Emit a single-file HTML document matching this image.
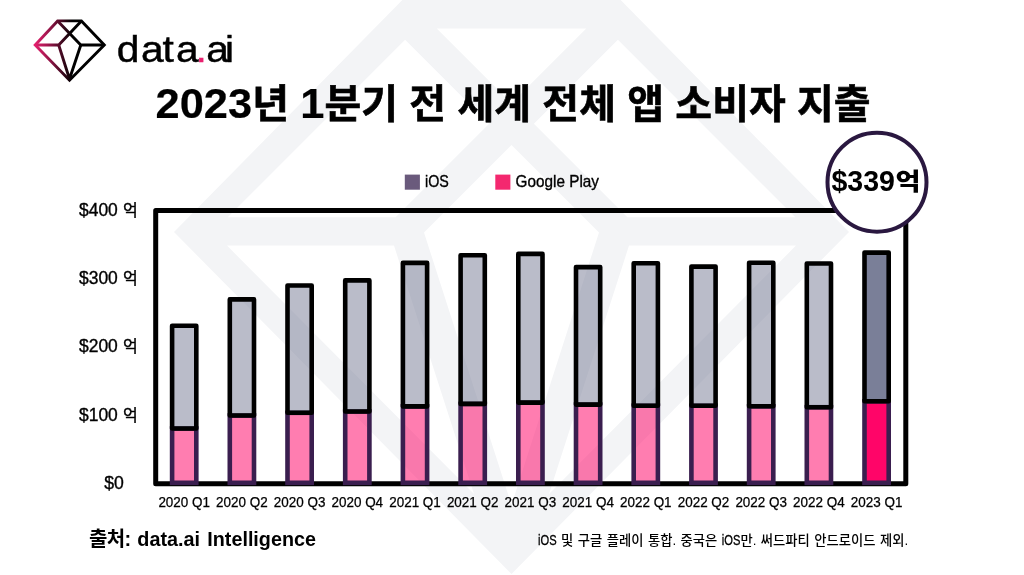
<!DOCTYPE html>
<html lang="ko">
<head>
<meta charset="utf-8">
<title>2023년 1분기 전 세계 전체 앱 소비자 지출</title>
<style>
html,body{margin:0;padding:0;background:#fff;}
body{width:1024px;height:575px;overflow:hidden;}
svg{display:block;}
text{font-family:"Liberation Sans","Noto Sans CJK KR",sans-serif;fill:#000;}
.ko{font-family:"Liberation Sans","Noto Sans CJK KR",sans-serif;}
</style>
</head>
<body>
<svg width="1024" height="575" viewBox="0 0 1024 575">
<defs>
<linearGradient id="lg" gradientUnits="userSpaceOnUse" x1="34" y1="0" x2="72" y2="0">
<stop offset="0" stop-color="#e8206f"/><stop offset="0.35" stop-color="#a3174f"/><stop offset="1" stop-color="#000"/>
</linearGradient>
</defs>
<rect width="1024" height="575" fill="#fff"/>
<!-- watermark -->
<path fill="#f3f4f6" fill-rule="evenodd" d="M405.3 -3.0 L617.7 -3.0 L849.0 232.0 L511.5 574.0 L174.0 232.0 Z M436.7 28.6 L586.3 28.6 L511.5 103.3 Z M405.1 39.7 L489.1 123.7 L395.6 217.2 L227.7 217.2 Z M795.3 217.2 L627.4 217.2 L533.9 123.7 L617.9 39.7 Z M511.5 145.0 L599.0 232.5 L511.5 505.0 L424.0 232.5 Z M227.0 245.6 L394.0 245.6 L474.0 494.0 Z M549.0 494.0 L629.0 245.6 L796.0 245.6 Z"/>
<!-- logo -->
<g fill="none" stroke="url(#lg)" stroke-width="2.9" stroke-linejoin="miter">
<path d="M57.6 20.9 L81.4 20.9 L104.3 45 L69.5 80.2 L35.2 45 Z"/>
<path d="M57.6 20.9 L80.8 45 L104.3 45"/>
<path d="M81.4 20.9 L58.7 45 L35.2 45"/>
<path d="M58.7 45 L69.5 79 M80.8 45 L69.5 79"/>
</g>
<text transform="scale(1.1,1)" x="106.1 128.2 147.7 159.9 177.8 187.4 204.5" y="61.8" font-size="37" stroke="#000" stroke-width="0.45">data<tspan fill="#e8206f" stroke="#e8206f">.</tspan>ai</text>
<!-- title -->
<text class="ko" x="155.6" y="118.2" word-spacing="0.2" font-size="40" font-weight="700" stroke="#000" stroke-width="0.6"><tspan font-size="43.4" stroke-width="0.2">2023</tspan>년 <tspan font-size="43.4" stroke-width="0.2">1</tspan>분기 전 세계 전체 앱 소비자 지출</text>
<!-- legend -->
<rect x="404.8" y="174.6" width="15.1" height="15.1" fill="#6a5a7c"/>
<text x="425" y="187.2" font-size="16.2" textLength="23.8" lengthAdjust="spacingAndGlyphs" stroke="#000" stroke-width="0.35">iOS</text>
<rect x="495.3" y="174.6" width="15.1" height="15.1" fill="#f4286f"/>
<text x="515.6" y="187.2" font-size="16.2" textLength="83.4" lengthAdjust="spacingAndGlyphs" stroke="#000" stroke-width="0.35">Google Play</text>
<!-- frame -->
<rect x="155.7" y="210.5" width="750.1" height="273.2" fill="none" stroke="#000" stroke-width="5" stroke-linejoin="round"/>
<!-- bars -->
<rect x="172.1" y="428.5" width="24.2" height="54.3" fill="#ff0568" fill-opacity="0.52" stroke="#3a1e4f" stroke-width="4.6"/>
<rect x="172.1" y="325.7" width="24.2" height="102.8" fill="#7a7f98" fill-opacity="0.52" stroke="#000" stroke-width="4.6" stroke-linejoin="round"/>
<rect x="229.8" y="415.5" width="24.2" height="67.3" fill="#ff0568" fill-opacity="0.52" stroke="#3a1e4f" stroke-width="4.6"/>
<rect x="229.8" y="299.4" width="24.2" height="116.1" fill="#7a7f98" fill-opacity="0.52" stroke="#000" stroke-width="4.6" stroke-linejoin="round"/>
<rect x="287.5" y="412.8" width="24.2" height="70.0" fill="#ff0568" fill-opacity="0.52" stroke="#3a1e4f" stroke-width="4.6"/>
<rect x="287.5" y="285.5" width="24.2" height="127.3" fill="#7a7f98" fill-opacity="0.52" stroke="#000" stroke-width="4.6" stroke-linejoin="round"/>
<rect x="345.2" y="411.5" width="24.2" height="71.3" fill="#ff0568" fill-opacity="0.52" stroke="#3a1e4f" stroke-width="4.6"/>
<rect x="345.2" y="280.4" width="24.2" height="131.1" fill="#7a7f98" fill-opacity="0.52" stroke="#000" stroke-width="4.6" stroke-linejoin="round"/>
<rect x="402.9" y="406.4" width="24.2" height="76.4" fill="#ff0568" fill-opacity="0.52" stroke="#3a1e4f" stroke-width="4.6"/>
<rect x="402.9" y="262.9" width="24.2" height="143.5" fill="#7a7f98" fill-opacity="0.52" stroke="#000" stroke-width="4.6" stroke-linejoin="round"/>
<rect x="460.6" y="403.9" width="24.2" height="78.9" fill="#ff0568" fill-opacity="0.52" stroke="#3a1e4f" stroke-width="4.6"/>
<rect x="460.6" y="255.2" width="24.2" height="148.7" fill="#7a7f98" fill-opacity="0.52" stroke="#000" stroke-width="4.6" stroke-linejoin="round"/>
<rect x="518.3" y="402.6" width="24.2" height="80.2" fill="#ff0568" fill-opacity="0.52" stroke="#3a1e4f" stroke-width="4.6"/>
<rect x="518.3" y="253.9" width="24.2" height="148.7" fill="#7a7f98" fill-opacity="0.52" stroke="#000" stroke-width="4.6" stroke-linejoin="round"/>
<rect x="576.0" y="404.6" width="24.2" height="78.2" fill="#ff0568" fill-opacity="0.52" stroke="#3a1e4f" stroke-width="4.6"/>
<rect x="576.0" y="267.1" width="24.2" height="137.5" fill="#7a7f98" fill-opacity="0.52" stroke="#000" stroke-width="4.6" stroke-linejoin="round"/>
<rect x="633.7" y="405.7" width="24.2" height="77.1" fill="#ff0568" fill-opacity="0.52" stroke="#3a1e4f" stroke-width="4.6"/>
<rect x="633.7" y="263.3" width="24.2" height="142.4" fill="#7a7f98" fill-opacity="0.52" stroke="#000" stroke-width="4.6" stroke-linejoin="round"/>
<rect x="691.4" y="405.7" width="24.2" height="77.1" fill="#ff0568" fill-opacity="0.52" stroke="#3a1e4f" stroke-width="4.6"/>
<rect x="691.4" y="266.6" width="24.2" height="139.1" fill="#7a7f98" fill-opacity="0.52" stroke="#000" stroke-width="4.6" stroke-linejoin="round"/>
<rect x="749.1" y="406.3" width="24.2" height="76.5" fill="#ff0568" fill-opacity="0.52" stroke="#3a1e4f" stroke-width="4.6"/>
<rect x="749.1" y="262.8" width="24.2" height="143.5" fill="#7a7f98" fill-opacity="0.52" stroke="#000" stroke-width="4.6" stroke-linejoin="round"/>
<rect x="806.8" y="407.2" width="24.2" height="75.6" fill="#ff0568" fill-opacity="0.52" stroke="#3a1e4f" stroke-width="4.6"/>
<rect x="806.8" y="263.5" width="24.2" height="143.7" fill="#7a7f98" fill-opacity="0.52" stroke="#000" stroke-width="4.6" stroke-linejoin="round"/>
<rect x="864.5" y="401.3" width="24.2" height="81.5" fill="#ff0568" stroke="#3a1e4f" stroke-width="4.6"/>
<rect x="864.5" y="252.6" width="24.2" height="148.7" fill="#7a7f98" stroke="#000" stroke-width="4.6" stroke-linejoin="round"/>
<!-- y labels -->
<g font-size="18" stroke="#000" stroke-width="0.35">
<text x="79" y="215.8"><tspan textLength="38.8" lengthAdjust="spacingAndGlyphs">$400</tspan><tspan x="118.6" font-size="16"> 억</tspan></text>
<text x="79" y="284.1"><tspan textLength="38.8" lengthAdjust="spacingAndGlyphs">$300</tspan><tspan x="118.6" font-size="16"> 억</tspan></text>
<text x="79" y="352.4"><tspan textLength="38.8" lengthAdjust="spacingAndGlyphs">$200</tspan><tspan x="118.6" font-size="16"> 억</tspan></text>
<text x="79" y="420.7"><tspan textLength="38.8" lengthAdjust="spacingAndGlyphs">$100</tspan><tspan x="118.6" font-size="16"> 억</tspan></text>
<text x="104.3" y="489.1" textLength="19.6" lengthAdjust="spacingAndGlyphs">$0</text>
</g>
<!-- x labels -->
<g font-size="14.2" stroke="#000" stroke-width="0.25">
<text x="184.2" y="507.2" text-anchor="middle" textLength="51.6" lengthAdjust="spacingAndGlyphs">2020 Q1</text>
<text x="241.9" y="507.2" text-anchor="middle" textLength="51.6" lengthAdjust="spacingAndGlyphs">2020 Q2</text>
<text x="299.6" y="507.2" text-anchor="middle" textLength="51.6" lengthAdjust="spacingAndGlyphs">2020 Q3</text>
<text x="357.3" y="507.2" text-anchor="middle" textLength="51.6" lengthAdjust="spacingAndGlyphs">2020 Q4</text>
<text x="415.0" y="507.2" text-anchor="middle" textLength="51.6" lengthAdjust="spacingAndGlyphs">2021 Q1</text>
<text x="472.7" y="507.2" text-anchor="middle" textLength="51.6" lengthAdjust="spacingAndGlyphs">2021 Q2</text>
<text x="530.4" y="507.2" text-anchor="middle" textLength="51.6" lengthAdjust="spacingAndGlyphs">2021 Q3</text>
<text x="588.1" y="507.2" text-anchor="middle" textLength="51.6" lengthAdjust="spacingAndGlyphs">2021 Q4</text>
<text x="645.8" y="507.2" text-anchor="middle" textLength="51.6" lengthAdjust="spacingAndGlyphs">2022 Q1</text>
<text x="703.5" y="507.2" text-anchor="middle" textLength="51.6" lengthAdjust="spacingAndGlyphs">2022 Q2</text>
<text x="761.2" y="507.2" text-anchor="middle" textLength="51.6" lengthAdjust="spacingAndGlyphs">2022 Q3</text>
<text x="818.9" y="507.2" text-anchor="middle" textLength="51.6" lengthAdjust="spacingAndGlyphs">2022 Q4</text>
<text x="876.6" y="507.2" text-anchor="middle" textLength="51.6" lengthAdjust="spacingAndGlyphs">2023 Q1</text>
</g>
<!-- callout -->
<circle cx="877" cy="182.2" r="49.5" fill="#fff" stroke="#2a1840" stroke-width="4"/>
<text x="831.5" y="190.6" font-size="30" font-weight="700"><tspan textLength="63.5" lengthAdjust="spacingAndGlyphs">$339</tspan><tspan x="895.5" y="190" font-size="24" font-weight="900" textLength="25" lengthAdjust="spacingAndGlyphs">억</tspan></text>
<!-- footer -->
<text y="546.4" font-size="19.8" font-weight="700"><tspan x="89" font-size="20" letter-spacing="-0.6">출처:</tspan><tspan x="137.3">data.ai</tspan><tspan x="207.3" textLength="108.6" lengthAdjust="spacingAndGlyphs">Intelligence</tspan></text>
<text x="538" y="544.8" font-size="13.3" font-weight="500" word-spacing="0.8"><tspan font-size="14.2" textLength="18.6" lengthAdjust="spacingAndGlyphs" stroke="#000" stroke-width="0.3">iOS</tspan> 및 구글 플레이 통합. 중국은 <tspan font-size="14.2" textLength="18.6" lengthAdjust="spacingAndGlyphs" stroke="#000" stroke-width="0.3">iOS</tspan>만. 써드파티 안드로이드 제외.</text>
</svg>
</body>
</html>
